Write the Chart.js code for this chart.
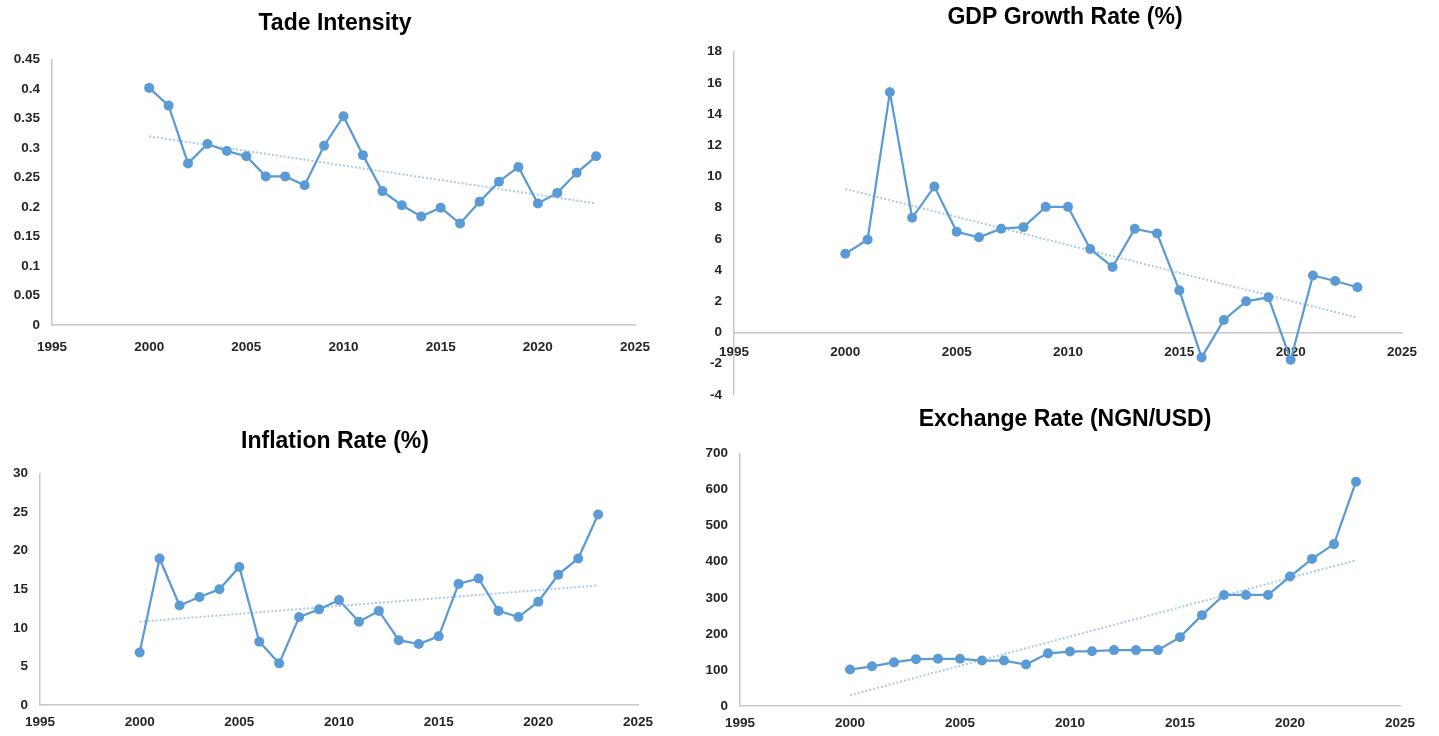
<!DOCTYPE html>
<html>
<head>
<meta charset="utf-8">
<script src="https://cdn.jsdelivr.net/npm/chart.js@4.4.0/dist/chart.umd.min.js"></script>
<style>
  html, body { margin: 0; padding: 0; background: #fff; }
  body { width: 1439px; height: 736px; position: relative; overflow: hidden; }
  .box { position: absolute; }
</style>
</head>
<body>
<div class="box" style="left:0;top:0;width:670px;height:355px"><canvas id="trade"></canvas></div>
<div class="box" style="left:700px;top:0;width:730px;height:415px"><canvas id="gdp"></canvas></div>
<div class="box" style="left:0;top:400px;width:670px;height:335px"><canvas id="infl"></canvas></div>
<div class="box" style="left:700px;top:380px;width:730px;height:356px"><canvas id="fx"></canvas></div>
<script>
// Four small line charts with dotted linear trend lines.

const years = [
  2000, 2001, 2002, 2003, 2004, 2005, 2006, 2007, 2008, 2009, 2010, 2011,
  2012, 2013, 2014, 2015, 2016, 2017, 2018, 2019, 2020, 2021, 2022, 2023,
];

const tradeIntensity = [
  0.402, 0.372, 0.274, 0.307, 0.295, 0.286, 0.252, 0.252, 0.237, 0.304, 0.354, 0.288,
  0.227, 0.203, 0.184, 0.199, 0.172, 0.209, 0.243, 0.268, 0.206, 0.224, 0.258, 0.286,
];
const gdpGrowth = [
  5.05, 5.95, 15.4, 7.35, 9.35, 6.45, 6.1, 6.65, 6.75, 8.05, 8.05, 5.35,
  4.2, 6.65, 6.35, 2.7, -1.6, 0.8, 2.0, 2.25, -1.75, 3.65, 3.3, 2.9,
];
const inflation = [
  6.8, 19.0, 12.9, 14.0, 15.0, 17.9, 8.2, 5.4, 11.4, 12.4, 13.6, 10.8,
  12.2, 8.4, 7.9, 8.9, 15.7, 16.4, 12.2, 11.4, 13.4, 16.9, 19.0, 24.7,
];
const exchangeRate = [
  101, 110, 121, 130, 131, 131, 126, 126, 115, 146, 151, 152,
  155, 155, 155, 191, 252, 308, 308, 308, 359, 408, 449, 622,
];

// trend line end points (2000 and 2023) as drawn in the picture
const trendYears = [2000, 2023];
const tradeTrend = [0.32, 0.206];
const gdpTrend = [9.2, 0.95];
const inflTrend = [10.8, 15.5];
const fxTrend = [30, 404];

const BLUE = "#5b9bd5";
const TREND = "#a9cbea";
const AXIS = "#c8c8c8";
const TEXT = "#262626";
const FONT = "'Liberation Sans', Arial, sans-serif";

const pts = (xs, ys) => xs.map((x, i) => ({ x, y: ys[i] }));

function makeChart(id, opt) {
  const tickFmt = opt.decimals
    ? (v) => String(+v.toFixed(opt.decimals))
    : (v) => String(v);

  return new Chart(document.getElementById(id), {
    type: "line",
    data: {
      datasets: [
        {
          data: pts(years, opt.values),
          borderColor: BLUE,
          backgroundColor: BLUE,
          borderWidth: 2.25,
          pointRadius: 5,
          pointBorderWidth: 0,
          tension: 0,
        },
        {
          data: pts(trendYears, opt.trend),
          borderColor: TREND,
          borderWidth: 2,
          borderDash: [2, 2],
          pointRadius: 0,
        },
      ],
    },
    options: {
      responsive: true,
      maintainAspectRatio: false,
      animation: false,
      layout: { padding: { left: 0, right: 0, top: 0, bottom: opt.bottom || 0 } },
      plugins: {
        legend: { display: false },
        tooltip: { enabled: false },
        title: {
          display: true,
          text: opt.title,
          color: "#000",
          font: { family: FONT, size: 23, weight: "bold", lineHeight: 1.2 },
          padding: opt.titlePad,
        },
      },
      scales: {
        x: {
          type: "linear",
          min: 1995,
          max: 2025,
          position: opt.xAtZero ? { y: 0 } : "bottom",
          grid: { display: false, drawTicks: false },
          border: { color: AXIS, width: 1.5 },
          ticks: {
            stepSize: 5,
            padding: opt.xPad,
            color: TEXT,
            font: { family: FONT, size: 13.5, weight: "bold" },
            callback: (v) => String(v),
          },
          afterFit: opt.xAtZero ? undefined : (s) => { s.height = 30; },
        },
        y: {
          min: opt.min,
          max: opt.max,
          grid: { display: false, drawTicks: false },
          border: { color: AXIS, width: 1.5 },
          ticks: {
            stepSize: opt.step,
            padding: 12,
            color: TEXT,
            font: { family: FONT, size: 13.5, weight: "bold" },
            callback: tickFmt,
          },
          afterFit: (s) => { s.width = opt.axisLeft; },
        },
        // empty right-hand spacer so the title stays centred on the whole panel
        spacer: {
          position: "right",
          grid: { display: false, drawTicks: false },
          border: { display: false },
          ticks: { display: false },
          afterFit: (s) => { s.width = opt.side; },
        },
      },
    },
  });
}

makeChart("trade", {
  title: "Tade Intensity",
  values: tradeIntensity, trend: tradeTrend,
  min: 0, max: 0.45, step: 0.05, decimals: 2,
  axisLeft: 52, side: 35, xPad: 14,
  titlePad: { top: 10, bottom: 22 },
});

makeChart("gdp", {
  title: "GDP Growth Rate (%)",
  values: gdpGrowth, trend: gdpTrend,
  min: -4, max: 18, step: 2, xAtZero: true,
  axisLeft: 34, side: 28, bottom: 8, xPad: 12,
  titlePad: { top: 4, bottom: 20 },
});

makeChart("infl", {
  title: "Inflation Rate (%)",
  values: inflation, trend: inflTrend,
  min: 0, max: 30, step: 5,
  axisLeft: 40, side: 32, xPad: 9,
  titlePad: { top: 28, bottom: 18 },
});

makeChart("fx", {
  title: "Exchange Rate (NGN/USD)",
  values: exchangeRate, trend: fxTrend,
  min: 0, max: 700, step: 100,
  axisLeft: 40, side: 30, xPad: 9,
  titlePad: { top: 26, bottom: 20 },
});
</script>
</body>
</html>
